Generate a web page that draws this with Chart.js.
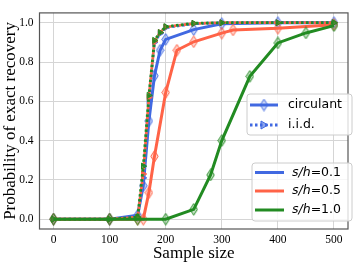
<!DOCTYPE html>
<html><head><meta charset="utf-8">
<script src="https://cdn.jsdelivr.net/npm/chart.js@4.4.1/dist/chart.umd.min.js"></script>
<style>html,body{margin:0;padding:0;background:#fff}#wrap{width:356px;height:264px;position:relative}</style>
</head><body><div id="wrap"><canvas id="c" width="356" height="264"></canvas></div>
<script>
// ---- data ----
const xTicks = [0, 100, 200, 300, 400, 500];
const yTicks = [0.0, 0.2, 0.4, 0.6, 0.8, 1.0];
const seriesNames = ['s/h=0.1', 's/h=0.5', 's/h=1.0'];

const circ01X = [0, 100, 150, 160, 170, 180, 190, 200, 250, 300, 400, 500];
const circ01Y = [0, 0, 0.02, 0.17, 0.50, 0.73, 0.86, 0.915, 0.965, 0.995, 1.0, 1.0];

const circ05X = [0, 100, 150, 160, 170, 180, 200, 220, 250, 300, 320, 400, 500];
const circ05Y = [0, 0, 0.0, 0.0, 0.135, 0.32, 0.645, 0.86, 0.903, 0.947, 0.963, 0.972, 0.99];

const circ10X = [0, 100, 150, 200, 250, 280, 300, 350, 400, 450, 500];
const circ10Y = [0, 0, 0, 0, 0.05, 0.225, 0.40, 0.727, 0.897, 0.948, 0.985];

const iidX = [0, 100, 150, 160, 170, 180, 190, 200, 250, 300, 400, 500];
const iid01Y = [0, 0, 0.01, 0.21, 0.60, 0.90, 0.945, 0.975, 0.995, 1.0, 1.0, 1.0];
const iid05Y = [0, 0, 0.01, 0.23, 0.62, 0.905, 0.95, 0.978, 0.996, 1.0, 1.0, 1.0];
const iid10Y = [0, 0, 0.01, 0.27, 0.63, 0.91, 0.95, 0.98, 0.997, 1.0, 1.0, 1.0];

const colors = ['#4169E1', '#FF6347', '#228B22'];
const fills = ['rgba(65,105,225,0.25)', 'rgba(255,99,71,0.25)', 'rgba(34,139,34,0.25)'];
const tfills = ['rgba(65,105,225,0.6)', 'rgba(255,99,71,0.6)', 'rgba(34,139,34,0.6)'];
const dashOffsets = [0, 2.5, 0];

function pts(xs, ys){ return xs.map((x,i)=>({x:x, y:ys[i]})); }

function diamond(col, fill){
  const c = document.createElement('canvas');
  c.width = 9; c.height = 13;
  const g = c.getContext('2d');
  g.beginPath();
  g.moveTo(4.5, 0.7); g.lineTo(8.2, 6.5); g.lineTo(4.5, 12.3); g.lineTo(0.8, 6.5); g.closePath();
  g.fillStyle = fill; g.fill();
  g.strokeStyle = col; g.lineWidth = 1; g.stroke();
  return c;
}
const dm = colors.map((c,i)=>diamond(c, fills[i]));

function circDS(xs, ys, i, order){
  return {data: pts(xs, ys), borderColor: colors[i], backgroundColor: fills[i], borderWidth: 3,
    pointStyle: dm[i], pointRadius: 5, pointHoverRadius: 5, order: order, tension: 0};
}
function iidDS(ys, i, order){
  return {data: pts(iidX, ys), borderColor: colors[i], backgroundColor: colors[i], borderWidth: 2.8,
    borderDash: [2.5, 2.5], borderDashOffset: dashOffsets[i], pointStyle: 'triangle', rotation: 90, pointRadius: 3.5,
    pointBorderWidth: 1, pointBorderColor: colors[i], pointBackgroundColor: tfills[i], order: order, tension: 0};
}

const frameLegend = {
  id: 'frameLegend',
  afterDatasetsDraw(chart){
    const ctx = chart.ctx, a = chart.chartArea;
    ctx.save();
    ctx.strokeStyle = '#555'; ctx.lineWidth = 1.2;
    ctx.strokeRect(a.left, a.top, a.right - a.left, a.bottom - a.top);
    function box(x, y, w, h){
      ctx.beginPath();
      const r = 3;
      ctx.moveTo(x+r, y); ctx.lineTo(x+w-r, y); ctx.quadraticCurveTo(x+w, y, x+w, y+r);
      ctx.lineTo(x+w, y+h-r); ctx.quadraticCurveTo(x+w, y+h, x+w-r, y+h);
      ctx.lineTo(x+r, y+h); ctx.quadraticCurveTo(x, y+h, x, y+h-r);
      ctx.lineTo(x, y+r); ctx.quadraticCurveTo(x, y, x+r, y); ctx.closePath();
      ctx.fillStyle = 'rgba(255,255,255,0.8)'; ctx.fill();
      ctx.strokeStyle = '#cccccc'; ctx.lineWidth = 1; ctx.stroke();
    }
    ctx.font = '12.5px "DejaVu Sans"'; ctx.textBaseline = 'middle'; ctx.textAlign = 'left';
    // legend 1
    box(247, 94, 105, 41);
    ctx.strokeStyle = colors[0]; ctx.lineWidth = 3; ctx.setLineDash([]);
    ctx.beginPath(); ctx.moveTo(250, 105); ctx.lineTo(278, 105); ctx.stroke();
    ctx.drawImage(dm[0], 264 - 4.5, 105 - 6.5);
    ctx.setLineDash([2.5, 2.5]); ctx.lineWidth = 2.8;
    ctx.beginPath(); ctx.moveTo(250, 125); ctx.lineTo(278, 125); ctx.stroke();
    ctx.setLineDash([]);
    ctx.beginPath(); ctx.moveTo(268, 125); ctx.lineTo(261, 121); ctx.lineTo(261, 129); ctx.closePath();
    ctx.fillStyle = tfills[0]; ctx.fill(); ctx.lineWidth = 1; ctx.stroke();
    ctx.fillStyle = '#000';
    ctx.fillText('circulant', 288, 105);
    ctx.fillText('i.i.d.', 288, 125);
    // legend 2
    box(252, 163, 100, 58);
    const ys = [172.5, 191, 210];
    const vals = ['=0.1', '=0.5', '=1.0'];
    for (let i = 0; i < 3; i++){
      ctx.strokeStyle = colors[i]; ctx.lineWidth = 3;
      ctx.beginPath(); ctx.moveTo(255, ys[i]); ctx.lineTo(284, ys[i]); ctx.stroke();
      ctx.fillStyle = '#000';
      ctx.font = 'italic 12.5px "DejaVu Sans"';
      ctx.fillText('s/h', 292, ys[i]);
      const w = ctx.measureText('s/h').width;
      ctx.font = '12.5px "DejaVu Sans"';
      ctx.fillText(vals[i], 292 + w, ys[i]);
    }
    ctx.restore();
  }
};

new Chart(document.getElementById('c'), {
  type: 'line',
  data: { datasets: [
    circDS(circ01X, circ01Y, 0, 6),
    iidDS(iid01Y, 0, 5),
    circDS(circ05X, circ05Y, 1, 4),
    iidDS(iid05Y, 1, 3),
    circDS(circ10X, circ10Y, 2, 2),
    iidDS(iid10Y, 2, 1)
  ]},
  options: {
    responsive: false, animation: false, devicePixelRatio: 1,
    layout: {padding: {top: 2, right: 3, left: 0, bottom: 0}},
    plugins: {legend: {display: false}, tooltip: {enabled: false}},
    scales: {
      x: {type: 'linear', min: -25, max: 525,
        afterBuildTicks(s){ s.ticks = xTicks.map(v=>({value:v})); },
        afterFit(s){ s.height = 35; },
        grid: {color: '#d5d5d5', lineWidth: 1, drawTicks: false},
        border: {display: false},
        ticks: {color: '#000', font: {family: '"Liberation Serif"', size: 11.5}, padding: 4, maxRotation: 0,
          callback: v => String(v)},
        title: {display: true, text: 'Sample size', color: '#000', font: {family: '"Liberation Serif"', size: 17}, padding: {top: 0, bottom: 0}}
      },
      y: {type: 'linear', min: -0.05, max: 1.05,
        afterBuildTicks(s){ s.ticks = yTicks.map(v=>({value:v})); },
        afterFit(s){ s.width = 39.5; },
        grid: {color: '#d5d5d5', lineWidth: 1, drawTicks: false},
        border: {display: false},
        ticks: {color: '#000', font: {family: '"Liberation Serif"', size: 11.5}, padding: 6,
          callback: v => v.toFixed(1)},
        title: {display: true, text: 'Probability of exact recovery', color: '#000', font: {family: '"Liberation Serif"', size: 17}, padding: {top: 0, bottom: 0}}
      }
    }
  },
  plugins: [frameLegend]
});
</script></body></html>
